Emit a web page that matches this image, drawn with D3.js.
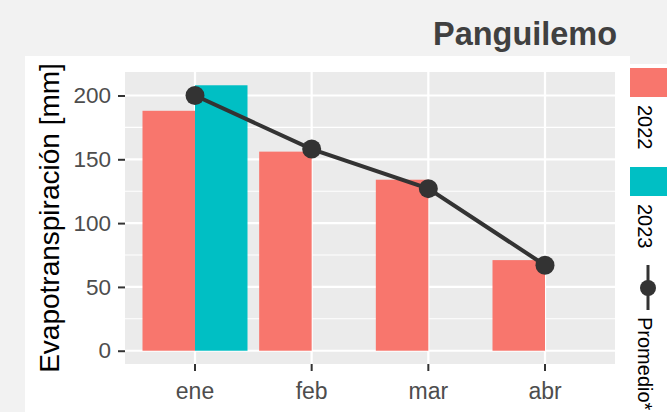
<!DOCTYPE html>
<html>
<head>
<meta charset="utf-8">
<script src="https://cdn.jsdelivr.net/npm/d3@7"></script>
<style>
  body { margin: 0; background: #f2f2f2; }
  svg { display: block; font-family: "Liberation Sans", Arial, sans-serif; }
</style>
</head>
<body>
<div id="chart"></div>
<script>
// data
var months = ["ene", "feb", "mar", "abr"];
var years = ["2022", "2023"];
var values2022 = [188, 156, 134, 71];
var values2023 = [208, null, null, null];
var promedio = [200, 158, 127, 67];
var yTicks = [0, 50, 100, 150, 200];
var yMinor = [25, 75, 125, 175];

// colours
var yearColor = d3.scaleOrdinal().domain(years).range(["#F8766D", "#00BFC4"]);
var lineColor = "#333333";

var W = 667, H = 412;
var panel = {left: 125, right: 615, top: 72, bottom: 364};

var svg = d3.select("#chart").append("svg")
	.attr("width", W)
	.attr("height", H);

// backgrounds
svg.append("rect").attr("width", W).attr("height", H).attr("fill", "#f2f2f2");
svg.append("rect")
	.attr("x", 25).attr("y", 56)
	.attr("width", 630 - 25).attr("height", H - 56)
	.attr("fill", "#ffffff");
svg.append("rect")
	.attr("x", 630).attr("y", 64)
	.attr("width", W - 630).attr("height", H - 64)
	.attr("fill", "#ffffff");

// title
var title = svg.append("text")
	.attr("x", 617)
	.attr("y", 45)
	.attr("text-anchor", "end")
	.attr("font-weight", "bold")
	.attr("font-size", 30)
	.attr("fill", "#404040")
	.text("Panguilemo");
var tl = title.node().getComputedTextLength();
title.attr("font-size", 30 * 184 / tl);

// scales
var yMax = d3.max(values2022.concat(values2023));
var pad = yMax * 0.05;
var y = d3.scaleLinear()
	.domain([-pad, yMax + pad])
	.range([panel.bottom, panel.top]);

var x = d3.scaleBand()
	.domain(months)
	.range([panel.left, panel.right])
	.paddingInner(0)
	.paddingOuter(0.1);

var xSub = d3.scaleBand()
	.domain(years)
	.range([x.bandwidth() * 0.05, x.bandwidth() * 0.95]);

function cx(m) { return x(m) + x.bandwidth() / 2; }

// panel
svg.append("rect")
	.attr("x", panel.left).attr("y", panel.top)
	.attr("width", panel.right - panel.left)
	.attr("height", panel.bottom - panel.top)
	.attr("fill", "#ebebeb");

// grid lines
svg.selectAll(".minor").data(yMinor).enter().append("line")
	.attr("x1", panel.left).attr("x2", panel.right)
	.attr("y1", function(d){ return y(d); })
	.attr("y2", function(d){ return y(d); })
	.attr("stroke", "#ffffff").attr("stroke-width", 1.1);

svg.selectAll(".major").data(yTicks).enter().append("line")
	.attr("x1", panel.left).attr("x2", panel.right)
	.attr("y1", function(d){ return y(d); })
	.attr("y2", function(d){ return y(d); })
	.attr("stroke", "#ffffff").attr("stroke-width", 2.2);

svg.selectAll(".vmajor").data(months).enter().append("line")
	.attr("y1", panel.top).attr("y2", panel.bottom)
	.attr("x1", function(d){ return cx(d); })
	.attr("x2", function(d){ return cx(d); })
	.attr("stroke", "#ffffff").attr("stroke-width", 2.2);

// bars
var barData = [];
months.forEach(function(m, i){
	if (values2022[i] != null) barData.push({month: m, year: "2022", value: values2022[i]});
	if (values2023[i] != null) barData.push({month: m, year: "2023", value: values2023[i]});
});

svg.selectAll(".bar").data(barData).enter().append("rect")
	.attr("x", function(d){ return x(d.month) + xSub(d.year); })
	.attr("y", function(d){ return y(d.value); })
	.attr("width", xSub.bandwidth())
	.attr("height", function(d){ return y(0) - y(d.value); })
	.attr("fill", function(d){ return yearColor(d.year); });

// promedio line + points
var line = d3.line()
	.x(function(d, i){ return cx(months[i]); })
	.y(function(d){ return y(d); });

svg.append("path")
	.datum(promedio)
	.attr("d", line)
	.attr("fill", "none")
	.attr("stroke", lineColor)
	.attr("stroke-width", 4);

svg.selectAll(".pt").data(promedio).enter().append("circle")
	.attr("cx", function(d, i){ return cx(months[i]); })
	.attr("cy", function(d){ return y(d); })
	.attr("r", 9.5)
	.attr("fill", lineColor);

// axes
var yAxisCall = d3.axisLeft(y).tickValues(yTicks).tickSize(7).tickPadding(7);
var yAxis = svg.append("g")
	.attr("transform", "translate(" + panel.left + ",0)")
	.call(yAxisCall);

var xAxisCall = d3.axisBottom(x).tickSize(7).tickPadding(12);
var xAxis = svg.append("g")
	.attr("transform", "translate(0," + panel.bottom + ")")
	.call(xAxisCall);

[yAxis, xAxis].forEach(function(a){
	a.select(".domain").remove();
	a.selectAll("line").attr("stroke", "#333333").attr("stroke-width", 2);
	a.selectAll("text")
		.attr("fill", "#4d4d4d")
		.style("font-size", "22.5px")
		.style("font-family", "'Liberation Sans', Arial, sans-serif");
});
xAxis.selectAll("text").style("font-size", "23px");

// y label
svg.append("text")
	.attr("transform", "translate(59," + ((panel.top + panel.bottom) / 2) + ") rotate(-90)")
	.attr("text-anchor", "middle")
	.attr("font-size", "28px")
	.attr("fill", "#000000")
	.text("Evapotranspiración [mm]");

// legend (rotated, reading downwards)
var legend = svg.append("g");

years.forEach(function(yr, i){
	var top = 68 + i * 99;
	legend.append("rect")
		.attr("x", 630).attr("y", top)
		.attr("width", 40).attr("height", 29)
		.attr("fill", yearColor(yr));
	legend.append("text")
		.attr("transform", "translate(638," + (top + 37) + ") rotate(90)")
		.attr("font-size", "20px")
		.attr("fill", "#000000")
		.text(yr);
});

legend.append("line")
	.attr("x1", 648).attr("x2", 648)
	.attr("y1", 265).attr("y2", 310)
	.attr("stroke", lineColor).attr("stroke-width", 3);
legend.append("circle")
	.attr("cx", 648).attr("cy", 288)
	.attr("r", 8)
	.attr("fill", lineColor);
legend.append("text")
	.attr("transform", "translate(638,317) rotate(90)")
	.attr("font-size", "20px")
	.attr("fill", "#000000")
	.text("Promedio*");
</script>
</body>
</html>
